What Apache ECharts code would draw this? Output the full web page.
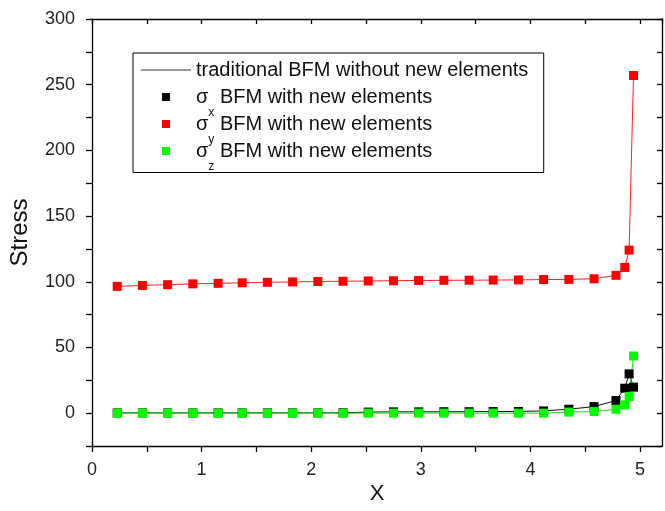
<!DOCTYPE html>
<html>
<head>
<meta charset="utf-8">
<script src="https://cdn.jsdelivr.net/npm/echarts@6/dist/echarts.min.js"></script>
<style>
html,body{margin:0;padding:0;background:#fff;}
#container{width:665px;height:511px;}
</style>
</head>
<body>
<div id="container"></div>
<script>
// x positions of the nodes
var xVals = [0.23,0.46,0.69,0.92,1.15,1.37,1.60,1.83,2.06,2.29,2.52,2.75,2.98,3.21,3.44,3.66,3.89,4.12,4.35,4.58,4.78,4.86,4.90,4.94];
// stresses
var sigmaX = [0.2,0.2,0.2,0.2,0.2,0.2,0.2,0.2,0.2,0.3,0.8,1.0,1.0,1.1,1.1,1.2,1.3,1.7,3.0,5.0,9.6,19.0,29.9,19.8];
var sigmaY = [96.5,97.2,97.8,98.4,98.8,99.2,99.6,99.9,100.2,100.4,100.6,100.8,101.0,101.1,101.2,101.3,101.4,101.7,101.8,102.3,104.9,110.9,124.1,257];
var sigmaZ = [0,0,0,0,0,0,0,0,0,0,0,0,0,0,0,0,0,0,0.8,1.2,3.0,6.3,12.6,43.5];
var yTicks = [0,50,100,150,200,250,300];
var xTicks = [0,1,2,3,4,5];

var tradName = 'traditional BFM without new elements';
var nameX = 'sx BFM with new elements';
var nameY = 'sy BFM with new elements';
var nameZ = 'sz BFM with new elements';

function pairs(ys) {
    var out = [];
    for (var i = 0; i < xVals.length; i++) {
        out.push([xVals[i], ys[i]]);
    }
    return out;
}

var font = 'Liberation Sans, Arial, sans-serif';
var square = 'path://M0,0L10,0L10,10L0,10Z';

var dom = document.getElementById("container");
var myChart = echarts.init(dom);
var option = {
    animation: false,
    backgroundColor: '#fff',
    grid: {left: 92, top: 19, right: 3, bottom: 65},
    legend: {
        orient: 'vertical',
        left: 133,
        top: 53,
        padding: [7, 12, 0, 8],
        borderColor: '#000',
        borderWidth: 1,
        itemWidth: 50,
        itemHeight: 8,
        itemGap: -4.5,
        symbolKeepAspect: true,
        textStyle: {
            fontFamily: font,
            fontSize: 20,
            color: '#111',
            rich: {
                s: {fontFamily: font, fontSize: 20, color: '#111'},
                sub: {fontFamily: font, fontSize: 12, color: '#111', padding: [31, 0, 0, 0]}
            }
        },
        formatter: function (name) {
            // same row structure for all items, so the rows are evenly spaced
            if (name == tradName) return '{s|' + name + '}{sub| }';
            var sub = name.charAt(1);
            return '{s|σ}{sub|' + sub + '}{s| BFM with new elements}';
        },
        data: [
            {name: tradName, icon: 'path://M0,0L50,0L50,1L0,1Z', itemStyle: {color: '#333'}},
            {name: nameX, icon: square},
            {name: nameY, icon: square},
            {name: nameZ, icon: square}
        ]
    },
    xAxis: [{
        type: 'value',
        min: 0,
        max: 5.2,
        interval: 0.5,
        name: 'X',
        nameLocation: 'middle',
        nameGap: 37,
        nameMoveOverlap: false,
        nameTextStyle: {fontFamily: font, fontSize: 22, color: '#111'},
        axisLine: {onZero: false, lineStyle: {color: '#000', width: 1.3}},
        axisTick: {inside: false, length: 6, lineStyle: {color: '#000', width: 1.3}},
        axisLabel: {
            margin: 15, fontFamily: font, fontSize: 18, color: '#222',
            showMaxLabel: false,
            formatter: function (v) { return xTicks.indexOf(v) != -1 ? String(v) : ''; }
        },
        splitLine: {show: false}
    }, {
        type: 'value',
        position: 'top',
        min: 0,
        max: 5.2,
        interval: 0.5,
        axisLine: {onZero: false, lineStyle: {color: '#000', width: 1.3}},
        axisTick: {inside: true, length: 5, lineStyle: {color: '#000', width: 1.3}},
        axisLabel: {show: false},
        splitLine: {show: false}
    }],
    yAxis: [{
        type: 'value',
        min: -25,
        max: 300,
        interval: 25,
        name: 'Stress',
        nameLocation: 'middle',
        nameGap: 60,
        nameMoveOverlap: false,
        nameTextStyle: {fontFamily: font, fontSize: 24, color: '#111'},
        axisLine: {onZero: false, lineStyle: {color: '#000', width: 1.3}},
        axisTick: {inside: false, length: 6, lineStyle: {color: '#000', width: 1.3}},
        axisLabel: {
            margin: 17, fontFamily: font, fontSize: 18, color: '#222',
            formatter: function (v) { return yTicks.indexOf(v) != -1 ? String(v) : ''; }
        },
        splitLine: {show: false}
    }, {
        type: 'value',
        position: 'right',
        min: -25,
        max: 300,
        interval: 25,
        axisLine: {onZero: false, lineStyle: {color: '#000', width: 1.3}},
        axisTick: {inside: true, length: 5, lineStyle: {color: '#000', width: 1.3}},
        axisLabel: {show: false},
        splitLine: {show: false}
    }],
    series: [
        {name: tradName, type: 'line', data: pairs(sigmaX), symbol: 'none', z: 2,
            lineStyle: {color: '#111', width: 1}, itemStyle: {color: '#333'}},
        {name: tradName, type: 'line', data: pairs(sigmaY), symbol: 'none', z: 2,
            lineStyle: {color: '#ff2020', width: 1}, itemStyle: {color: '#333'}},
        {name: tradName, type: 'line', data: pairs(sigmaZ), symbol: 'none', z: 2,
            lineStyle: {color: '#10e010', width: 1}, itemStyle: {color: '#333'}},
        {name: nameX, type: 'scatter', data: pairs(sigmaX), symbol: 'rect', symbolSize: 9, z: 3,
            itemStyle: {color: '#000', opacity: 1}},
        {name: nameY, type: 'scatter', data: pairs(sigmaY), symbol: 'rect', symbolSize: 9, z: 3,
            itemStyle: {color: '#ff0000', opacity: 1}},
        {name: nameZ, type: 'scatter', data: pairs(sigmaZ), symbol: 'rect', symbolSize: 9, z: 3,
            itemStyle: {color: '#00ff00', opacity: 1}}
    ]
};
myChart.setOption(option, true);
</script>
</body>
</html>
